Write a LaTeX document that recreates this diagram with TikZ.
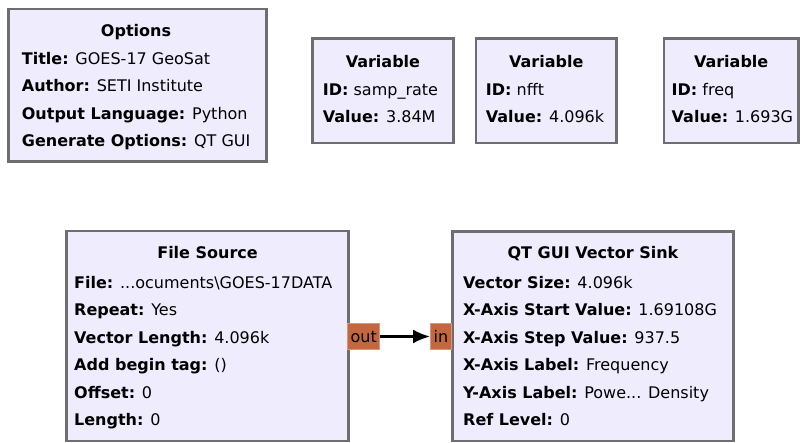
\documentclass[tikz,border=0pt]{standalone}
\usepackage{fontspec}
\setmainfont{DejaVu Sans}
\usetikzlibrary{positioning,arrows.meta}
\definecolor{blockfill}{HTML}{EFECFE}
\definecolor{blockline}{HTML}{6E6E6E}
\definecolor{portfill}{HTML}{C4673F}
\definecolor{portline}{HTML}{D9977B}
\newcommand{\cutdots}{...}

\begin{document}
\begin{tikzpicture}[x=1pt, y=-1pt, >=Latex,
    font=\fontsize{16}{27.5}\selectfont,
    blk/.style={draw=blockline, line width=2.5pt, fill=blockfill, anchor=north west, inner sep=0pt},
    ttl/.style={font=\fontsize{16}{27.5}\selectfont\bfseries, anchor=base, inner sep=0pt},
    prm/.style={anchor=base west, inner sep=0pt},
    port/.style={draw=portline, fill=portfill, line width=1pt, inner sep=0pt,
                 minimum height=26pt, anchor=west}]
    \useasboundingbox (0,0) rectangle (804,443);

    % options and variables
    \node[blk, minimum width=258pt, minimum height=152.5pt] (opt) at (7,8) {};
    \node[ttl] (optT) at (136,37) {Options};
    \foreach \k/\v [count=\i] in {Title/GOES-17 GeoSat, Author/SETI Institute,
        Output Language/Python, Generate Options/QT GUI}
      \node[prm] (opt-\i) at (21.7,37+27.5*\i) {\textbf{\k:} \v};

    \node[blk, minimum width=140.7pt, minimum height=104.7pt] (v1) at (311.3,37.3) {};
    \node[blk, minimum width=140.6pt, minimum height=104.7pt] (v2) at (474.7,37.3) {};
    \node[blk, minimum width=134.2pt, minimum height=104.7pt] (v3) at (662.8,37.3) {};
    \foreach \b/\x/\id/\val in {v1/322.7/samp\_rate/3.84M, v2/485.7/nfft/4.096k, v3/671.5/freq/1.693G} {
      \node[ttl] (\b T) at (\b.north |- 0,68) {Variable};
      \node[prm] (\b-1) at (\x,95.5) {\textbf{ID:} \id};
      \node[prm] (\b-2) at (\x,123) {\textbf{Value:} \val};
    }

    % flow blocks
    \node[blk, minimum width=282pt, minimum height=210pt] (src) at (65.3,229.7) {};
    \node[ttl] (srcT) at (src.north |- 0,259) {File Source};
    \foreach \k/\v [count=\i] in {File/\cutdots ocuments\textbackslash GOES-17DATA, Repeat/Yes,
        Vector Length/4.096k, Add begin tag/(), Offset/0, Length/0}
      \node[prm] (src-\i) at (74,261+27.5*\i) {\textbf{\k:} \v};

    \node[blk, minimum width=281.1pt, minimum height=209.4pt] (snk) at (451.2,230.3) {};
    \node[ttl] (snkT) at (snk.north |- 0,259) {QT GUI Vector Sink};
    \foreach \k/\v [count=\i] in {Vector Size/4.096k, X-Axis Start Value/1.69108G,
        X-Axis Step Value/937.5, X-Axis Label/Frequency, Y-Axis Label/Powe\cutdots{} Density,
        Ref Level/0}
      \node[prm] (snk-\i) at (463,261+27.5*\i) {\textbf{\k:} \v};

    % ports and connection
    \node[port, minimum width=32pt] (out) at (347.3,336.5) {out};
    \node[port, minimum width=21pt] (in) at (430,336.5) {in};
    \draw[->, line width=2.2pt, >={Latex[length=17pt, width=14pt]}] (out) -- (in);
\end{tikzpicture}
\end{document}
